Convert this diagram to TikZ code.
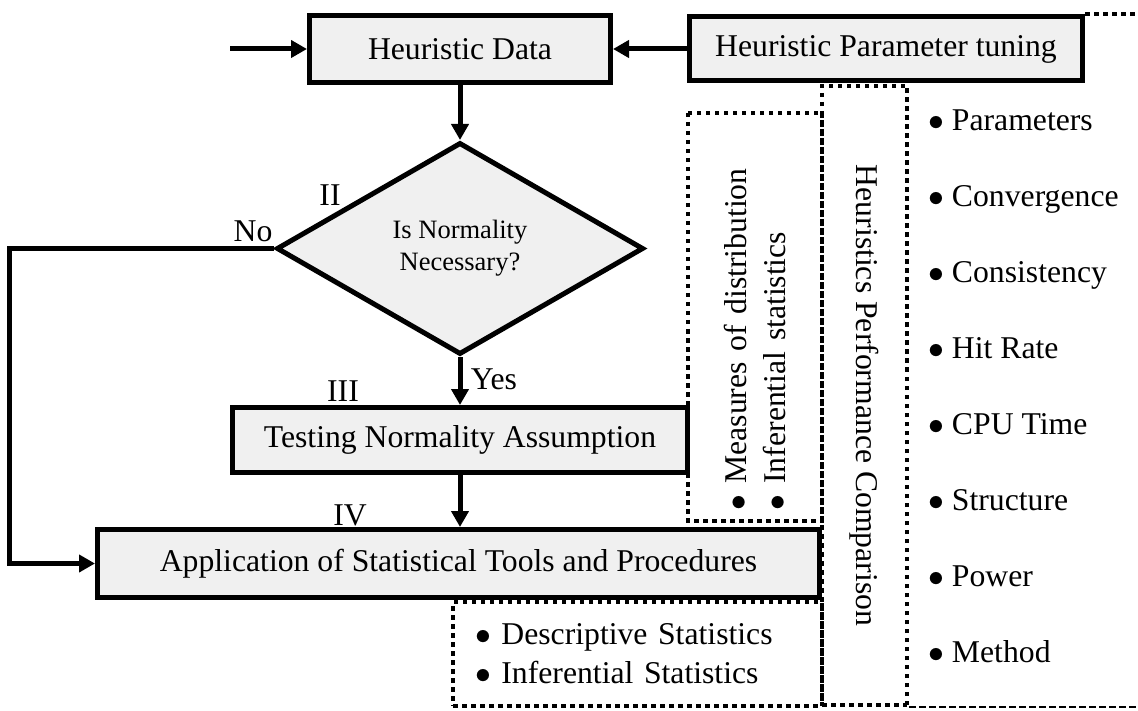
\RequirePackage{fix-cm}
\documentclass[tikz,border=0pt]{standalone}
\usepackage{fontspec}
\setmainfont{Liberation Serif}
\usetikzlibrary{positioning, shapes.geometric, arrows.meta}

\begin{document}
\begin{tikzpicture}[
  x=1pt, y=-1pt,
  font=\fontsize{31.7pt}{39pt}\selectfont,
  node distance=52pt and 74pt,
  box/.style={rectangle, draw, line width=5pt, fill=gray!12, inner sep=0pt,
              minimum height=65pt},
  decision/.style={diamond, draw, line width=5pt, fill=gray!12, align=center,
              inner sep=0pt, minimum width=367pt, minimum height=212pt,
              font=\fontsize{26.5pt}{32pt}\selectfont},
  dotbox/.style={draw, line width=4pt, dash pattern=on 4.5pt off 4.5pt, inner sep=0pt},
  dotline/.style={line width=4pt, dash pattern=on 4.5pt off 4.5pt},
  thindash/.style={line width=2pt, dash pattern=on 7pt off 3pt},
  item/.style={inner sep=0pt, text height=22pt, text depth=7pt},
  lbl/.style={inner sep=0pt},
  arrow/.style={-{Triangle[length=16pt, width=17pt]}, line width=5pt}
]
\useasboundingbox (0,0) rectangle (1138,711);

% Main flow
\node[box, minimum width=301pt, minimum height=67pt] (hd) at (460,49) {Heuristic Data};
\node[box, minimum width=393pt, minimum height=64pt, right=74pt of hd] (hpt) {Heuristic Parameter tuning};
\node[decision, below=55pt of hd] (dia) {Is Normality\\Necessary?};
\node[box, minimum width=455pt, below=48pt of dia] (test) {Testing Normality Assumption};
\node[box, minimum width=722pt, minimum height=68pt, below=52pt of test, xshift=-1.5pt] (app) {Application of Statistical Tools and Procedures};

% Step labels
\node[lbl] (lII) at (330,195) {II};
\node[lbl] (lIII) at (343,391) {III};
\node[lbl] (lIV) at (350,515) {IV};
\node[lbl] (no) at (253,231) {No};
\node[lbl] (yes) at (494,379) {Yes};

% Dotted boxes
\node[dotbox, rotate=90, minimum width=408pt, minimum height=134pt,
      text width=386pt, align=left] (measures) at (755,317)
  {$\bullet$\ Measures of distribution\\$\bullet$\ Inferential statistics};
\node[dotbox, rotate=-90, minimum width=619pt, minimum height=85pt] (perf) at (864.5,395.5)
  {Heuristics Performance Comparison};
\node[dotbox, minimum width=369pt, minimum height=104pt,
      text width=325pt, align=left] (stats) at (637.5,654)
  {$\bullet$\ Descriptive Statistics\\$\bullet$\ Inferential Statistics};

% Performance criteria
\node[item, anchor=west] (par) at (928,123) {$\bullet$\ Parameters};
\node[item, below=76pt of par.west, anchor=west] (conv) {$\bullet$\ Convergence};
\node[item, below=76pt of conv.west, anchor=west] (cons) {$\bullet$\ Consistency};
\node[item, below=76pt of cons.west, anchor=west] (hit) {$\bullet$\ Hit Rate};
\node[item, below=76pt of hit.west, anchor=west] (cpu) {$\bullet$\ CPU Time};
\node[item, below=76pt of cpu.west, anchor=west] (struc) {$\bullet$\ Structure};
\node[item, below=76pt of struc.west, anchor=west] (pow) {$\bullet$\ Power};
\node[item, below=76pt of pow.west, anchor=west] (meth) {$\bullet$\ Method};

% Arrows
\coordinate (in) at (230,49);
\coordinate (rim) at (1138,0);
\draw[arrow] (in) -- (hd.west);
\draw[arrow] (hpt.west) -- (hd.east);
\draw[arrow] (hd.south) -- (dia.north);
\draw[arrow] (dia.south) -- (test.north);
\draw[arrow] (test.south) -- (test.south |- app.north);
\draw[arrow] (dia.west) -- ++(-265,0) |- (app.west);

% Open border of the criteria list
\draw[dotline] (hpt.north east) -- (hpt.north east -| rim);
\draw[thindash] (perf.north east) -- (perf.north east -| rim);

\end{tikzpicture}
\end{document}
